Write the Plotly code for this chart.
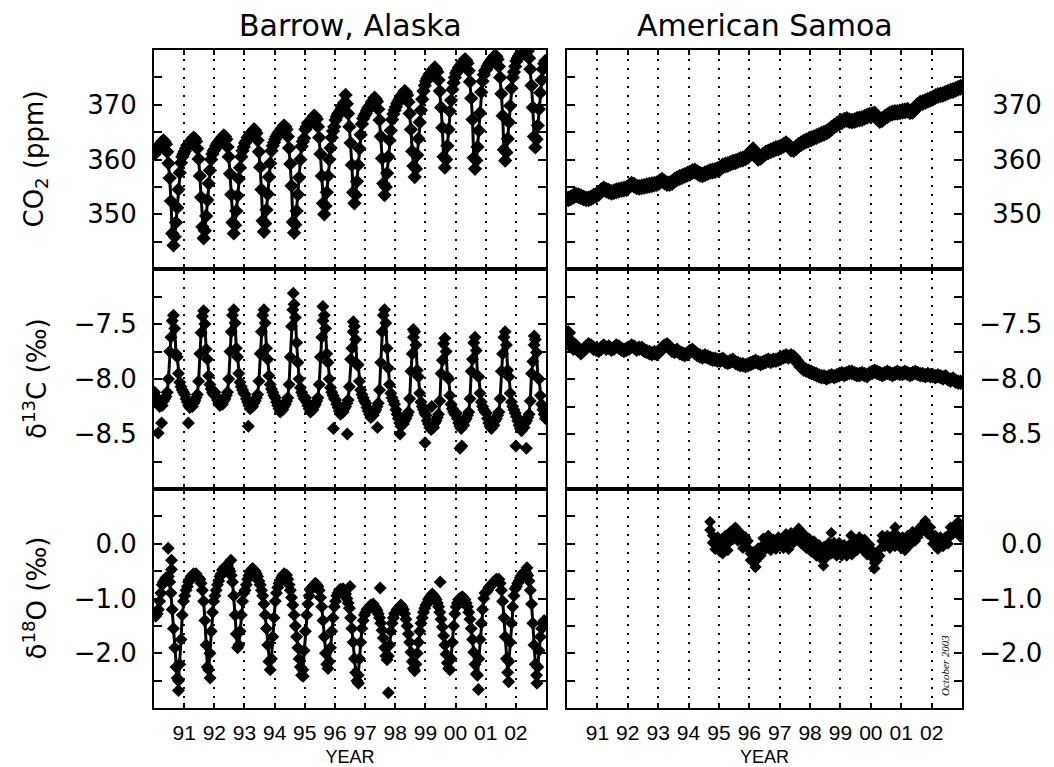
import plotly.graph_objects as go

# ---------------- data ----------------
YEARS = list(range(1990, 2003))
TICK_YEARS = list(range(1991, 2003))
TICK_TEXT = ["91", "92", "93", "94", "95", "96", "97", "98", "99", "00", "01", "02"]

# Barrow CO2 (ppm): two samples per month, one row per year 1990..2002
BRW_CO2 = [
    [361.0, 361.6, 362.1, 362.4, 362.6, 362.9, 363.2, 363.5, 363.2, 362.8, 361.4, 359.3, 356.6, 352.4, 346.5, 344.3, 345.9, 348.5, 351.2, 354.5, 357.6, 359.4, 360.5, 361.0],
    [361.5, 362.0, 362.6, 362.7, 363.1, 363.4, 363.7, 364.0, 363.8, 363.3, 362.0, 360.1, 357.0, 353.1, 347.7, 345.6, 347.0, 349.7, 352.6, 355.6, 358.0, 360.0, 361.0, 361.6],
    [361.9, 362.5, 362.9, 363.2, 363.5, 363.8, 364.1, 364.4, 364.2, 363.7, 362.3, 360.5, 357.4, 353.6, 348.5, 346.5, 348.0, 350.6, 353.4, 356.5, 358.5, 360.5, 361.6, 362.3],
    [363.0, 363.4, 364.0, 364.2, 364.6, 364.9, 365.1, 365.5, 365.3, 364.8, 363.5, 361.4, 358.6, 354.5, 348.8, 346.8, 348.3, 350.8, 353.7, 356.8, 359.3, 361.6, 362.5, 363.1],
    [363.7, 364.2, 364.6, 365.0, 365.2, 365.6, 365.8, 366.2, 366.0, 365.5, 364.2, 362.1, 359.2, 355.2, 348.6, 346.6, 348.1, 350.6, 353.6, 356.7, 360.0, 362.4, 363.3, 363.9],
    [365.5, 366.0, 366.6, 366.8, 367.0, 367.4, 367.6, 368.0, 367.8, 367.4, 366.0, 364.0, 361.0, 357.0, 352.0, 350.0, 351.5, 354.0, 357.0, 360.0, 362.1, 364.0, 365.2, 366.0],
    [367.2, 367.8, 368.3, 368.6, 369.0, 369.6, 370.0, 370.4, 371.8, 370.2, 368.4, 366.0, 363.0, 359.0, 354.0, 352.0, 353.5, 356.0, 359.0, 362.0, 364.5, 366.5, 367.5, 368.0],
    [368.4, 368.9, 369.4, 369.7, 370.0, 370.5, 370.8, 371.3, 371.0, 370.6, 369.2, 367.2, 364.2, 360.2, 355.6, 353.5, 355.0, 357.5, 360.5, 363.5, 365.3, 367.3, 368.3, 369.0],
    [369.6, 370.2, 370.6, 371.0, 371.4, 371.8, 372.1, 372.5, 372.3, 371.8, 370.5, 368.4, 365.5, 361.5, 358.8, 356.8, 358.3, 360.8, 363.8, 366.8, 369.0, 371.0, 372.5, 373.5],
    [374.3, 374.8, 375.2, 375.6, 375.8, 376.2, 376.5, 376.8, 376.5, 376.0, 374.5, 372.5, 369.5, 365.8, 360.5, 358.5, 360.0, 362.5, 365.5, 368.8, 370.8, 372.8, 374.0, 375.0],
    [375.8, 376.2, 376.7, 377.0, 377.3, 377.7, 378.0, 378.3, 378.1, 377.6, 376.2, 374.2, 371.2, 367.3, 360.3, 358.3, 359.8, 362.3, 365.3, 368.5, 372.3, 374.3, 375.5, 376.2],
    [376.5, 377.0, 377.4, 377.8, 378.0, 378.4, 378.7, 379.0, 378.8, 378.3, 377.0, 375.0, 372.0, 368.0, 361.8, 359.8, 361.3, 363.8, 366.8, 369.8, 373.0, 375.0, 376.0, 377.0],
    [378.0, 378.5, 378.9, 379.3, 379.5, 379.9, 380.2, 380.5, 380.3, 379.8, 378.5, 376.5, 373.5, 369.5, 364.2, 362.2, 363.7, 366.2, 369.2, 372.2, 374.5, 376.5, 377.5, 378.0],
]

# Barrow delta13C (per mil): two samples per month
BRW_D13C = [
    [-8.12, -8.16, -8.20, -8.22, -8.25, -8.21, -8.24, -8.20, -8.18, -8.16, -8.12, -8.00, -7.75, -7.62, -7.47, -7.42, -7.54, -7.77, -7.80, -7.95, -8.03, -8.07, -8.10, -8.12],
    [-8.14, -8.18, -8.21, -8.24, -8.26, -8.22, -8.25, -8.22, -8.20, -8.17, -8.14, -8.02, -7.77, -7.58, -7.43, -7.38, -7.50, -7.73, -7.82, -7.97, -8.05, -8.09, -8.12, -8.14],
    [-8.12, -8.16, -8.19, -8.22, -8.24, -8.20, -8.23, -8.20, -8.18, -8.15, -8.12, -8.00, -7.75, -7.57, -7.42, -7.37, -7.49, -7.72, -7.80, -7.95, -8.03, -8.07, -8.10, -8.13],
    [-8.14, -8.18, -8.21, -8.24, -8.27, -8.23, -8.25, -8.22, -8.20, -8.17, -8.14, -8.02, -7.77, -7.57, -7.42, -7.37, -7.49, -7.72, -7.82, -7.97, -8.05, -8.09, -8.12, -8.15],
    [-8.17, -8.21, -8.24, -8.27, -8.30, -8.26, -8.28, -8.25, -8.23, -8.20, -8.17, -8.05, -7.80, -7.52, -7.37, -7.32, -7.44, -7.67, -7.85, -8.00, -8.08, -8.12, -8.15, -8.18],
    [-8.17, -8.21, -8.24, -8.27, -8.30, -8.26, -8.28, -8.25, -8.23, -8.20, -8.17, -8.05, -7.80, -7.62, -7.47, -7.42, -7.54, -7.77, -7.85, -8.00, -8.08, -8.12, -8.15, -8.18],
    [-8.19, -8.23, -8.26, -8.29, -8.32, -8.28, -8.30, -8.27, -8.25, -8.22, -8.19, -8.07, -7.82, -7.72, -7.57, -7.52, -7.64, -7.87, -7.87, -8.02, -8.10, -8.14, -8.17, -8.20],
    [-8.22, -8.26, -8.29, -8.32, -8.35, -8.31, -8.33, -8.30, -8.28, -8.25, -8.22, -8.10, -7.85, -7.57, -7.42, -7.37, -7.49, -7.72, -7.90, -8.05, -8.13, -8.17, -8.20, -8.23],
    [-8.28, -8.32, -8.36, -8.40, -8.43, -8.39, -8.41, -8.38, -8.36, -8.33, -8.30, -8.18, -7.93, -7.77, -7.62, -7.57, -7.69, -7.92, -7.98, -8.13, -8.21, -8.25, -8.28, -8.31],
    [-8.33, -8.38, -8.41, -8.44, -8.46, -8.42, -8.44, -8.40, -8.38, -8.35, -8.32, -8.20, -7.95, -7.83, -7.68, -7.63, -7.75, -7.98, -8.00, -8.15, -8.23, -8.27, -8.30, -8.32],
    [-8.31, -8.36, -8.40, -8.43, -8.45, -8.41, -8.42, -8.38, -8.36, -8.33, -8.30, -8.18, -7.93, -7.82, -7.67, -7.62, -7.74, -7.97, -7.98, -8.13, -8.21, -8.25, -8.28, -8.30],
    [-8.31, -8.36, -8.40, -8.43, -8.45, -8.41, -8.42, -8.38, -8.36, -8.33, -8.30, -8.18, -7.93, -7.77, -7.62, -7.57, -7.69, -7.92, -7.98, -8.13, -8.21, -8.25, -8.28, -8.31],
    [-8.34, -8.38, -8.42, -8.45, -8.47, -8.43, -8.44, -8.40, -8.38, -8.35, -8.32, -8.20, -7.95, -7.84, -7.69, -7.64, -7.76, -7.99, -8.00, -8.15, -8.23, -8.28, -8.32, -8.36],
]
BRW_D13C_OUT_T = [1990.14, 1990.25, 1991.14, 1993.13, 1994.62, 1995.60, 1995.95, 1996.41, 1996.61, 1997.41, 1998.16, 1998.60, 1998.99, 1999.21, 2000.15, 2000.21, 2002.00, 2002.35, 2002.61]
BRW_D13C_OUT_V = [-8.49, -8.40, -8.40, -8.43, -7.22, -7.34, -8.45, -8.50, -7.48, -8.44, -8.50, -7.55, -8.58, -8.25, -8.63, -8.61, -8.61, -8.63, -7.61]

# Barrow delta18O (per mil): two samples per month
BRW_D18O = [
    [-1.30, -1.32, -1.28, -1.20, -1.05, -0.90, -0.75, -0.70, -0.66, -0.62, -0.65, -0.60, -0.70, -0.90, -1.20, -1.55, -1.90, -2.25, -2.45, -2.50, -2.20, -1.75, -1.30, -1.05],
    [-0.95, -0.85, -0.78, -0.70, -0.65, -0.60, -0.62, -0.55, -0.58, -0.55, -0.60, -0.62, -0.65, -0.72, -0.85, -1.05, -1.40, -1.85, -2.25, -2.30, -2.00, -1.60, -1.25, -1.05],
    [-0.95, -0.85, -0.75, -0.68, -0.60, -0.55, -0.48, -0.45, -0.42, -0.45, -0.40, -0.45, -0.50, -0.58, -0.70, -0.95, -1.30, -1.65, -1.90, -1.85, -1.60, -1.30, -1.05, -0.90],
    [-0.85, -0.75, -0.65, -0.58, -0.52, -0.48, -0.45, -0.48, -0.50, -0.55, -0.60, -0.68, -0.75, -0.85, -0.95, -1.10, -1.30, -1.55, -1.85, -2.15, -2.30, -2.10, -1.70, -1.35],
    [-1.05, -0.90, -0.80, -0.72, -0.68, -0.62, -0.58, -0.55, -0.58, -0.57, -0.65, -0.75, -0.85, -0.98, -1.12, -1.30, -1.50, -1.70, -1.90, -2.10, -2.25, -2.40, -2.30, -1.95],
    [-1.60, -1.30, -1.10, -0.95, -0.85, -0.80, -0.78, -0.75, -0.72, -0.75, -0.78, -0.85, -0.98, -1.15, -1.40, -1.70, -2.00, -2.20, -2.28, -2.15, -1.90, -1.60, -1.35, -1.15],
    [-1.05, -0.95, -0.90, -0.85, -0.83, -0.85, -0.82, -0.88, -0.92, -1.00, -1.08, -1.18, -1.35, -1.55, -1.80, -2.10, -2.35, -2.50, -2.40, -2.10, -1.80, -1.55, -1.40, -1.30],
    [-1.25, -1.20, -1.18, -1.15, -1.12, -1.15, -1.10, -1.15, -1.18, -1.22, -1.28, -1.35, -1.45, -1.58, -1.72, -1.90, -2.05, -2.12, -2.05, -1.85, -1.60, -1.45, -1.35, -1.28],
    [-1.25, -1.20, -1.18, -1.15, -1.12, -1.15, -1.20, -1.28, -1.38, -1.50, -1.65, -1.80, -1.98, -2.15, -2.28, -2.32, -2.20, -2.00, -1.80, -1.60, -1.45, -1.35, -1.25, -1.18],
    [-1.12, -1.08, -1.02, -0.98, -0.95, -0.92, -0.95, -0.98, -1.02, -1.08, -1.15, -1.25, -1.38, -1.52, -1.68, -1.85, -2.02, -2.18, -2.28, -2.30, -2.10, -1.80, -1.50, -1.28],
    [-1.15, -1.08, -1.02, -1.00, -0.98, -0.97, -1.00, -1.02, -1.08, -1.15, -1.25, -1.38, -1.55, -1.75, -1.98, -2.20, -2.38, -2.40, -2.10, -1.75, -1.45, -1.20, -1.00, -0.90],
    [-0.88, -0.85, -0.80, -0.78, -0.75, -0.72, -0.70, -0.68, -0.65, -0.66, -0.65, -0.72, -0.85, -1.05, -1.35, -1.70, -2.10, -2.35, -2.15, -1.80, -1.45, -1.15, -0.95, -0.82],
    [-0.78, -0.72, -0.68, -0.62, -0.58, -0.55, -0.52, -0.50, -0.55, -0.58, -0.68, -0.85, -1.10, -1.45, -1.85, -2.20, -2.40, -2.25, -1.95, -1.70, -1.55, -1.45, -1.40, -1.45],
]
BRW_D18O_OUT_T = [1990.47, 1990.58, 1990.58, 1990.81, 1991.86, 1992.55, 1994.95, 1996.50, 1996.78, 1997.50, 1997.77, 1999.49, 2000.76, 2001.76, 2002.37, 2002.70]
BRW_D18O_OUT_V = [-0.08, -0.30, -0.47, -2.68, -2.45, -0.30, -2.42, -0.78, -2.55, -0.81, -2.72, -0.70, -2.66, -2.52, -0.44, -2.55]

# American Samoa CO2 (ppm): monthly, one row per year
SMO_CO2 = [
    [352.8, 353.0, 353.3, 353.5, 353.4, 353.2, 353.0, 352.8, 352.8, 353.0, 353.3, 353.5],
    [353.8, 354.3, 354.6, 354.4, 354.2, 354.0, 354.1, 354.3, 354.4, 354.5, 354.6, 354.7],
    [355.1, 355.5, 355.3, 355.0, 354.9, 355.0, 355.1, 355.2, 355.3, 355.4, 355.5, 355.6],
    [355.9, 356.2, 355.9, 355.6, 355.6, 355.8, 356.2, 356.5, 356.7, 356.9, 357.1, 357.3],
    [357.5, 357.8, 357.9, 357.6, 357.3, 357.2, 357.4, 357.6, 357.8, 357.9, 358.0, 358.2],
    [358.4, 358.8, 359.0, 359.1, 359.3, 359.5, 359.6, 359.8, 360.0, 360.1, 360.3, 360.6],
    [361.3, 361.8, 361.0, 360.2, 360.4, 360.8, 361.2, 361.4, 361.6, 361.8, 362.0, 362.1],
    [362.3, 362.6, 362.9, 362.5, 361.9, 361.8, 362.2, 362.6, 362.9, 363.2, 363.4, 363.6],
    [363.8, 364.0, 364.2, 364.4, 364.6, 364.8, 365.0, 365.3, 365.7, 366.1, 366.4, 366.7],
    [366.9, 367.2, 367.3, 367.1, 367.0, 367.1, 367.3, 367.4, 367.5, 367.7, 367.9, 368.1],
    [368.2, 368.3, 367.6, 367.1, 367.3, 367.7, 368.0, 368.3, 368.5, 368.6, 368.6, 368.7],
    [368.8, 368.9, 369.0, 368.7, 368.8, 369.3, 369.9, 370.3, 370.4, 370.6, 370.8, 371.0],
    [371.2, 371.5, 371.7, 371.8, 371.9, 372.1, 372.3, 372.5, 372.6, 372.8, 373.0, 373.2],
]

# American Samoa delta13C (per mil): monthly
SMO_D13C = [
    [-7.58, -7.66, -7.72, -7.70, -7.74, -7.76, -7.74, -7.71, -7.69, -7.70, -7.72, -7.73],
    [-7.74, -7.72, -7.70, -7.72, -7.71, -7.73, -7.72, -7.70, -7.71, -7.73, -7.74, -7.73],
    [-7.72, -7.70, -7.71, -7.73, -7.72, -7.72, -7.74, -7.75, -7.76, -7.77, -7.76, -7.77],
    [-7.75, -7.72, -7.70, -7.69, -7.71, -7.74, -7.75, -7.74, -7.76, -7.77, -7.78, -7.77],
    [-7.75, -7.74, -7.76, -7.78, -7.79, -7.80, -7.79, -7.80, -7.81, -7.82, -7.82, -7.83],
    [-7.83, -7.82, -7.84, -7.85, -7.84, -7.83, -7.85, -7.86, -7.87, -7.87, -7.88, -7.87],
    [-7.86, -7.85, -7.84, -7.85, -7.86, -7.85, -7.84, -7.83, -7.84, -7.83, -7.83, -7.82],
    [-7.81, -7.80, -7.79, -7.80, -7.79, -7.80, -7.83, -7.86, -7.89, -7.91, -7.92, -7.93],
    [-7.94, -7.95, -7.96, -7.97, -7.98, -7.98, -7.99, -7.98, -7.97, -7.98, -7.97, -7.96],
    [-7.95, -7.96, -7.95, -7.94, -7.94, -7.95, -7.96, -7.96, -7.95, -7.96, -7.97, -7.95],
    [-7.94, -7.93, -7.94, -7.95, -7.96, -7.95, -7.94, -7.95, -7.96, -7.95, -7.94, -7.95],
    [-7.95, -7.94, -7.95, -7.96, -7.95, -7.94, -7.95, -7.96, -7.96, -7.97, -7.96, -7.97],
    [-7.97, -7.98, -7.97, -7.98, -7.99, -7.98, -8.00, -8.01, -8.00, -8.02, -8.03, -8.03],
]

# American Samoa delta18O (per mil): monthly, record begins September 1994
SMO_D18O_START = (1994, 9)
SMO_D18O = [
    0.40, 0.15, 0.05, 0.00,
    -0.15, -0.05, 0.05, 0.00, 0.10, 0.20, 0.22, 0.18, 0.10, 0.05, 0.00, -0.08,
    -0.18, -0.28, -0.32, -0.20, -0.10, -0.02, 0.02, 0.05, 0.00, -0.05, 0.03, 0.00,
    -0.04, 0.05, 0.08, 0.02, 0.10, 0.15, 0.20, 0.18, 0.12, 0.08, 0.05, 0.00,
    -0.05, -0.08, -0.12, -0.15, -0.18, -0.15, -0.12, -0.08, -0.05, -0.10, -0.12, -0.08,
    -0.12, -0.15, -0.10, -0.14, -0.10, -0.05, 0.00, 0.02, 0.00, -0.05, -0.10, -0.15,
    -0.25, -0.35, -0.30, -0.10, 0.05, 0.08, 0.05, 0.02, 0.05, 0.08, 0.05, 0.04,
    0.02, -0.02, 0.05, 0.08, 0.12, 0.15, 0.22, 0.30, 0.35, 0.32, 0.28, 0.20,
    0.10, 0.05, 0.00, 0.03, 0.05, 0.02, 0.10, 0.20, 0.28, 0.35, 0.30, 0.22,
]
# second flask of each Samoa delta18O pair (same months)
SMO_D18O_B = [
    0.25, 0.02, -0.10, 0.12,
    -0.02, -0.18, 0.15, -0.12, 0.22, 0.08, 0.30, 0.05, 0.20, -0.08, 0.12, 0.05,
    -0.30, -0.15, -0.42, -0.08, -0.22, 0.10, -0.10, 0.15, -0.12, 0.08, -0.10, 0.12,
    0.08, -0.08, 0.18, -0.10, 0.20, 0.02, 0.10, 0.28, 0.00, 0.18, -0.08, 0.10,
    -0.15, 0.05, -0.22, -0.02, -0.28, -0.05, -0.25, 0.02, -0.18, 0.02, -0.22, 0.02,
    -0.22, -0.02, -0.22, -0.02, -0.20, 0.08, -0.12, 0.12, -0.10, 0.08, -0.20, -0.02,
    -0.12, -0.45, -0.18, -0.22, 0.15, -0.05, 0.15, -0.08, 0.15, -0.05, 0.15, -0.06,
    0.12, -0.12, 0.15, -0.02, 0.22, 0.05, 0.12, 0.20, 0.25, 0.42, 0.18, 0.30,
    0.00, 0.15, -0.10, 0.12, -0.05, 0.12, 0.00, 0.30, 0.18, 0.25, 0.40, 0.12,
]
SMO_D18O_OUT_T = [1996.20, 1998.44, 1998.70, 1999.35, 2000.10, 2000.80]
SMO_D18O_OUT_V = [-0.43, -0.40, 0.20, 0.15, -0.45, 0.30]


# ---------------- helpers ----------------
def per_year(rows, n):
    t, v = [], []
    for y, row in zip(YEARS, rows):
        for k, val in enumerate(row):
            t.append(y + (k + 0.5) / n)
            v.append(val)
    return t, v


def from_month(start, vals):
    y0, m0 = start
    t = [y0 + (m0 - 1 + i + 0.5) / 12.0 for i in range(len(vals))]
    return t, list(vals)


BLACK = "black"
fig = go.Figure()


def add(t, v, ax, outs=None, size=10, lw=3):
    xa = "x" if ax == 1 else "x%d" % ax
    ya = "y" if ax == 1 else "y%d" % ax
    fig.add_trace(go.Scatter(x=t, y=v, mode="lines+markers", line=dict(color=BLACK, width=lw),
                             marker=dict(symbol="diamond", size=size, color=BLACK),
                             xaxis=xa, yaxis=ya, showlegend=False))
    if outs:
        fig.add_trace(go.Scatter(x=outs[0], y=outs[1], mode="markers",
                                 marker=dict(symbol="diamond", size=size, color=BLACK),
                                 xaxis=xa, yaxis=ya, showlegend=False))


add(*per_year(BRW_CO2, 24), 1, size=11)
add(*per_year(SMO_CO2, 12), 2, size=13)
add(*per_year(BRW_D13C, 24), 3, (BRW_D13C_OUT_T, BRW_D13C_OUT_V), size=10)
add(*per_year(SMO_D13C, 12), 4, size=12)
add(*per_year(BRW_D18O, 24), 5, (BRW_D18O_OUT_T, BRW_D18O_OUT_V), size=10)
t6, _ = from_month(SMO_D18O_START, SMO_D18O)
add(t6, SMO_D18O, 6, (t6 + SMO_D18O_OUT_T, SMO_D18O_B + SMO_D18O_OUT_V), size=9)

# ---------------- layout ----------------
W, H = 1054, 767
XL = [154 / W, 546 / W]
XR = [567 / W, 962 / W]
ROWS = [[1 - 269 / H, 1 - 50 / H], [1 - 489 / H, 1 - 269 / H], [1 - 708 / H, 1 - 489 / H]]

YFONT = dict(family="DejaVu Sans", size=26, color=BLACK)
XFONT = dict(family="Liberation Sans", size=21, color=BLACK)

Y_SPECS = [
    dict(range=[340, 380], vals=[350, 360, 370], left=["350", "360", "370"],
         right=["\u2002350", "\u2002360", "\u2002370"], minor=5),
    dict(range=[-9, -7], vals=[-8.5, -8.0, -7.5], left=["\u22128.5", "\u22128.0", "\u22127.5"],
         right=["\u22128.5", "\u22128.0", "\u22127.5"], minor=0.25),
    dict(range=[-3, 1], vals=[-2, -1, 0], left=["\u22122.0", "\u22121.0", "0.0"],
         right=["\u22122.0", "\u22121.0", "\u2007\u20090.0"], minor=0.5),
]

layout = dict(width=W, height=H, margin=dict(l=0, r=0, t=0, b=0),
              paper_bgcolor="white", plot_bgcolor="white", showlegend=False,
              template="none")

n = 0
for r in range(3):
    for c in range(2):
        n += 1
        key = "" if n == 1 else str(n)
        bottom = (r == 2)
        xa = dict(domain=XL if c == 0 else XR, range=[1990, 2003],
                  tickmode="array", tickvals=TICK_YEARS, ticktext=TICK_TEXT,
                  showticklabels=bottom, tickfont=XFONT,
                  showgrid=True, gridcolor=BLACK, gridwidth=2, griddash="2px,7px",
                  ticks="inside", ticklen=5, tickwidth=1.5, tickcolor=BLACK,
                  showline=True, linecolor=BLACK, linewidth=2, mirror="ticks",
                  zeroline=False, automargin=False, anchor="y" + key,
                  ticklabelstandoff=5)
        if bottom:
            xa["title"] = dict(text="YEAR", font=dict(family="Liberation Sans", size=18, color=BLACK),
                               standoff=7)
        sp = Y_SPECS[r]
        ya = dict(domain=ROWS[r], range=sp["range"], tickmode="array",
                  tickvals=sp["vals"], ticktext=sp["left"] if c == 0 else sp["right"],
                  tickfont=YFONT, side="left" if c == 0 else "right",
                  ticks="inside", ticklen=8, tickwidth=1.5, tickcolor=BLACK,
                  minor=dict(dtick=sp["minor"], tick0=sp["range"][0], ticks="inside", ticklen=8,
                             tickwidth=1.5, tickcolor=BLACK, showgrid=False),
                  showgrid=False, showline=True, linecolor=BLACK, linewidth=2,
                  mirror="ticks", zeroline=False, automargin=False, anchor="x" + key,
                  ticklabelstandoff=10)
        layout["xaxis" + key] = xa
        layout["yaxis" + key] = ya

ann = []
TFONT = dict(family="DejaVu Sans", size=30, color=BLACK)
ann.append(dict(text="Barrow, Alaska", x=(XL[0] + XL[1]) / 2, y=1 - 25 / H, xref="paper", yref="paper",
                xanchor="center", yanchor="middle", showarrow=False, font=TFONT))
ann.append(dict(text="American Samoa", x=(XR[0] + XR[1]) / 2, y=1 - 25 / H, xref="paper", yref="paper",
                xanchor="center", yanchor="middle", showarrow=False, font=TFONT))
YTITLES = ["CO<sub>2</sub> (ppm)", "\u03b4<sup>13</sup>C (\u2030)", "\u03b4<sup>18</sup>O (\u2030)"]
for r, txt in enumerate(YTITLES):
    ann.append(dict(text=txt, x=35 / W, y=(ROWS[r][0] + ROWS[r][1]) / 2, xref="paper", yref="paper",
                    xanchor="center", yanchor="middle", textangle=-90, showarrow=False,
                    font=dict(family="DejaVu Sans", size=26, color=BLACK)))
ann.append(dict(text="<i>October 2003</i>", x=945 / W, y=1 - 666 / H, xref="paper", yref="paper",
                xanchor="center", yanchor="middle", textangle=-90, showarrow=False,
                font=dict(family="Liberation Serif", size=11, color=BLACK)))
layout["annotations"] = ann

fig.update_layout(**layout)
fig.write_html("out.html")
